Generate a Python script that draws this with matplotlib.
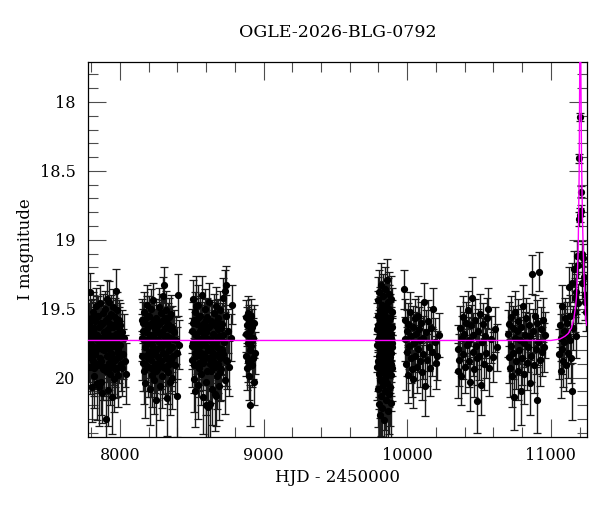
import matplotlib
matplotlib.use("Agg")
import matplotlib.pyplot as plt
from matplotlib.ticker import MultipleLocator

# OGLE photometry, one list of (HJD-2450000, I mag, error) per season
season1 = [
    (7781, 19.62, 0.16), (7784, 19.85, 0.18), (7786, 19.66, 0.14), (7790, 19.74, 0.17),
    (7792, 19.38, 0.14), (7795, 19.92, 0.20), (7799, 19.81, 0.19), (7802, 19.57, 0.13),
    (7804, 20.07, 0.25), (7807, 19.70, 0.16), (7811, 19.52, 0.14), (7813, 19.88, 0.20),
    (7816, 19.77, 0.17), (7820, 19.64, 0.15), (7822, 19.99, 0.23), (7825, 19.59, 0.14),
    (7829, 19.83, 0.18), (7831, 19.48, 0.13), (7834, 19.72, 0.16), (7838, 20.04, 0.27),
    (7841, 19.69, 0.15), (7843, 19.90, 0.21), (7846, 19.55, 0.14), (7850, 19.78, 0.18),
    (7852, 20.07, 0.28), (7855, 19.63, 0.15), (7859, 19.86, 0.19), (7862, 19.46, 0.13),
    (7864, 19.75, 0.17), (7867, 20.03, 0.24), (7871, 19.60, 0.14), (7875, 20.11, 0.22),
    (7876, 19.71, 0.16), (7879, 19.53, 0.14), (7883, 19.94, 0.22), (7886, 19.80, 0.18),
    (7888, 19.67, 0.15), (7891, 19.92, 0.21), (7895, 19.50, 0.13), (7898, 19.76, 0.17),
    (7900, 20.30, 0.30), (7903, 19.58, 0.14), (7907, 19.84, 0.19), (7910, 19.43, 0.14),
    (7912, 19.73, 0.16), (7915, 20.09, 0.26), (7919, 19.65, 0.15), (7922, 19.89, 0.20),
    (7924, 19.45, 0.15), (7927, 19.79, 0.18), (7931, 19.97, 0.23), (7934, 19.61, 0.14),
    (7936, 19.82, 0.19), (7939, 19.54, 0.14), (7943, 20.14, 0.27), (7946, 19.70, 0.16),
    (7948, 19.91, 0.21), (7951, 19.49, 0.13), (7955, 19.77, 0.17), (7958, 20.01, 0.24),
    (7960, 19.62, 0.15), (7963, 19.87, 0.20), (7967, 19.56, 0.14), (7970, 19.74, 0.17),
    (7972, 19.37, 0.16), (7975, 19.68, 0.15), (7979, 19.93, 0.21), (7982, 19.51, 0.13),
    (7984, 19.80, 0.18), (7987, 19.98, 0.23), (7991, 19.64, 0.15), (7994, 19.85, 0.19),
    (7997, 19.58, 0.14), (8001, 19.76, 0.17), (8006, 19.90, 0.20), (8012, 19.67, 0.16),
    (8019, 19.83, 0.18), (8027, 19.71, 0.17), (8036, 19.88, 0.19), (8042, 19.97, 0.22),
    (7783, 19.78, 0.17), (7788, 19.61, 0.15), (7797, 19.70, 0.16), (7806, 19.86, 0.19),
    (7815, 19.58, 0.15), (7818, 19.93, 0.20), (7827, 19.68, 0.16), (7836, 19.80, 0.18),
    (7840, 19.56, 0.15), (7848, 19.91, 0.20), (7857, 19.74, 0.17), (7866, 19.62, 0.15),
    (7869, 19.88, 0.19), (7878, 19.79, 0.18), (7885, 19.60, 0.15), (7893, 19.72, 0.17),
    (7902, 19.95, 0.21), (7905, 19.66, 0.16), (7914, 19.84, 0.19), (7917, 19.57, 0.15),
    (7926, 19.69, 0.16), (7933, 19.92, 0.20), (7941, 19.75, 0.17), (7950, 19.63, 0.15),
    (7953, 19.86, 0.19), (7962, 19.71, 0.17), (7969, 19.94, 0.21), (7977, 19.59, 0.15),
    (7986, 19.82, 0.18), (7993, 19.70, 0.16), (8003, 19.62, 0.16), (8015, 19.93, 0.20),
]

season2 = [
    (8153, 19.71, 0.17), (8156, 19.58, 0.15), (8160, 19.89, 0.21), (8163, 19.66, 0.16),
    (8166, 19.95, 0.24), (8170, 19.52, 0.14), (8173, 19.78, 0.18), (8176, 20.04, 0.25),
    (8180, 19.61, 0.15), (8183, 19.84, 0.19), (8186, 19.47, 0.14), (8190, 19.73, 0.17),
    (8193, 19.92, 0.22), (8196, 19.63, 0.15), (8200, 19.81, 0.19), (8203, 19.55, 0.14),
    (8206, 20.08, 0.26), (8210, 19.69, 0.16), (8213, 19.87, 0.20), (8216, 19.50, 0.14),
    (8220, 19.76, 0.17), (8223, 19.98, 0.23), (8226, 19.60, 0.15), (8230, 19.83, 0.19),
    (8233, 19.44, 0.13), (8236, 19.72, 0.17), (8240, 20.02, 0.24), (8243, 19.65, 0.15),
    (8246, 19.90, 0.21), (8250, 20.16, 0.28), (8253, 19.57, 0.14), (8256, 19.79, 0.18),
    (8260, 19.94, 0.22), (8263, 19.62, 0.15), (8266, 19.85, 0.19), (8270, 19.49, 0.14),
    (8273, 19.74, 0.17), (8276, 20.06, 0.25), (8280, 19.68, 0.16), (8283, 19.88, 0.20),
    (8286, 19.53, 0.14), (8290, 19.77, 0.18), (8293, 19.99, 0.23), (8296, 19.59, 0.15),
    (8300, 19.82, 0.19), (8303, 19.41, 0.14), (8306, 19.33, 0.13), (8310, 19.70, 0.16),
    (8313, 19.93, 0.22), (8316, 19.64, 0.15), (8320, 19.86, 0.20), (8323, 19.51, 0.14),
    (8326, 20.15, 0.27), (8330, 19.75, 0.17), (8333, 19.96, 0.23), (8336, 19.61, 0.15),
    (8340, 19.80, 0.18), (8343, 19.56, 0.14), (8346, 20.03, 0.24), (8350, 19.71, 0.16),
    (8353, 19.89, 0.21), (8356, 19.54, 0.14), (8360, 19.78, 0.18), (8363, 20.00, 0.23),
    (8366, 19.63, 0.15), (8370, 19.84, 0.19), (8375, 19.67, 0.16), (8381, 19.91, 0.21),
    (8388, 19.73, 0.17), (8394, 20.13, 0.30), (8400, 19.82, 0.19), (8405, 19.40, 0.15),
    (8410, 19.76, 0.18),
    (8155, 19.84, 0.18), (8162, 19.60, 0.15), (8168, 19.73, 0.17), (8178, 19.90, 0.20),
    (8185, 19.67, 0.16), (8191, 19.56, 0.15), (8198, 19.86, 0.19), (8205, 19.75, 0.17),
    (8212, 19.62, 0.15), (8218, 19.93, 0.21), (8225, 19.80, 0.18), (8232, 19.69, 0.16),
    (8238, 19.58, 0.15), (8245, 19.82, 0.19), (8252, 19.95, 0.21), (8258, 19.66, 0.16),
    (8265, 19.73, 0.17), (8272, 19.89, 0.20), (8278, 19.60, 0.15), (8285, 19.78, 0.18),
    (8292, 19.67, 0.16), (8298, 19.92, 0.20), (8305, 19.74, 0.17), (8312, 19.57, 0.15),
    (8318, 19.84, 0.19), (8325, 19.70, 0.16), (8332, 19.63, 0.15), (8338, 19.91, 0.20),
    (8345, 19.77, 0.18), (8352, 19.65, 0.16), (8358, 19.87, 0.19), (8368, 19.72, 0.17),
]

season3 = [
    (8500, 19.66, 0.16), (8503, 19.87, 0.20), (8506, 19.43, 0.14), (8510, 19.74, 0.17),
    (8513, 20.01, 0.24), (8516, 19.58, 0.15), (8520, 19.82, 0.19), (8523, 19.52, 0.14),
    (8526, 20.10, 0.26), (8530, 19.69, 0.16), (8532, 19.48, 0.22), (8536, 19.61, 0.15),
    (8540, 19.79, 0.18), (8543, 19.47, 0.14), (8546, 20.05, 0.25), (8550, 19.72, 0.17),
    (8553, 19.89, 0.21), (8556, 19.55, 0.14), (8560, 19.77, 0.18), (8563, 19.97, 0.23),
    (8566, 19.64, 0.15), (8570, 19.85, 0.20), (8573, 19.40, 0.14), (8576, 19.71, 0.16),
    (8580, 20.14, 0.27), (8583, 19.60, 0.15), (8586, 19.83, 0.19), (8590, 19.50, 0.14),
    (8593, 19.76, 0.17), (8596, 20.03, 0.24), (8600, 19.67, 0.16), (8602, 20.20, 0.25),
    (8606, 19.56, 0.14), (8610, 19.80, 0.18), (8613, 20.21, 0.29), (8616, 19.63, 0.15),
    (8620, 19.86, 0.20), (8623, 19.45, 0.14), (8626, 20.19, 0.28), (8630, 19.73, 0.17),
    (8633, 19.95, 0.23), (8636, 19.59, 0.15), (8640, 19.81, 0.19), (8643, 20.08, 0.26),
    (8646, 19.68, 0.16), (8650, 19.88, 0.21), (8653, 19.53, 0.14), (8656, 19.75, 0.17),
    (8660, 20.12, 0.27), (8663, 19.62, 0.15), (8667, 20.13, 0.22), (8670, 19.48, 0.14),
    (8673, 19.78, 0.18), (8676, 19.99, 0.24), (8680, 19.65, 0.16), (8683, 19.90, 0.21),
    (8686, 19.57, 0.14), (8690, 20.06, 0.25), (8693, 19.70, 0.16), (8696, 19.86, 0.20),
    (8700, 19.51, 0.14), (8703, 19.79, 0.18), (8706, 19.94, 0.22), (8710, 19.61, 0.15),
    (8715, 19.83, 0.19), (8720, 19.42, 0.14), (8726, 19.74, 0.17), (8729, 19.37, 0.15),
    (8732, 20.02, 0.24), (8737, 19.55, 0.15), (8741, 19.33, 0.14), (8746, 19.88, 0.20),
    (8752, 19.66, 0.16), (8760, 19.92, 0.21), (8770, 19.71, 0.17), (8783, 19.47, 0.14),
    (8502, 19.77, 0.17), (8508, 19.60, 0.15), (8515, 19.91, 0.20), (8521, 19.68, 0.16),
    (8528, 19.84, 0.19), (8535, 19.74, 0.17), (8541, 19.57, 0.15), (8548, 19.93, 0.21),
    (8555, 19.66, 0.16), (8561, 19.82, 0.19), (8568, 19.62, 0.15), (8575, 19.89, 0.20),
    (8581, 19.75, 0.17), (8588, 19.68, 0.16), (8595, 19.86, 0.19), (8601, 19.58, 0.15),
    (8608, 19.95, 0.21), (8615, 19.72, 0.17), (8621, 19.63, 0.15), (8628, 19.90, 0.20),
    (8635, 19.78, 0.18), (8641, 19.60, 0.15), (8648, 19.85, 0.19), (8655, 19.69, 0.16),
    (8661, 19.92, 0.21), (8668, 19.74, 0.17), (8675, 19.59, 0.15), (8681, 19.83, 0.19),
    (8688, 19.71, 0.16), (8695, 19.96, 0.21), (8701, 19.64, 0.16), (8708, 19.80, 0.18),
    (8718, 19.69, 0.17), (8735, 19.87, 0.19),
]

season4 = [
    (8876, 19.68, 0.13), (8879, 19.56, 0.12), (8881, 19.84, 0.15), (8884, 19.62, 0.13),
    (8886, 19.93, 0.16), (8889, 19.75, 0.14), (8891, 19.53, 0.12), (8894, 19.88, 0.15),
    (8896, 19.70, 0.13), (8899, 19.99, 0.17), (8901, 19.59, 0.12), (8904, 19.80, 0.14),
    (8906, 19.66, 0.13), (8909, 20.20, 0.15), (8911, 19.77, 0.14), (8914, 19.55, 0.12),
    (8916, 19.91, 0.16), (8919, 19.73, 0.14), (8921, 19.63, 0.13), (8924, 19.86, 0.15),
    (8927, 19.71, 0.14), (8930, 20.03, 0.17), (8934, 19.60, 0.13), (8938, 19.82, 0.15),
]

season5 = [
    (9792, 19.65, 0.19), (9793, 19.92, 0.24), (9795, 19.44, 0.17), (9796, 20.08, 0.28),
    (9798, 19.73, 0.20), (9799, 19.55, 0.18), (9801, 20.19, 0.30), (9802, 19.84, 0.22),
    (9804, 19.38, 0.16), (9805, 19.97, 0.26), (9807, 19.68, 0.19), (9808, 20.27, 0.32),
    (9810, 19.51, 0.17), (9811, 19.79, 0.21), (9813, 20.02, 0.27), (9814, 19.61, 0.18),
    (9816, 19.89, 0.23), (9817, 19.33, 0.16), (9819, 20.13, 0.29), (9820, 19.75, 0.20),
    (9822, 19.58, 0.18), (9823, 19.95, 0.25), (9825, 19.47, 0.17), (9826, 20.22, 0.31),
    (9828, 19.70, 0.20), (9829, 19.86, 0.22), (9831, 19.41, 0.16), (9832, 20.05, 0.27),
    (9834, 19.64, 0.19), (9835, 19.81, 0.21), (9837, 20.31, 0.33), (9838, 19.53, 0.17),
    (9840, 19.92, 0.24), (9841, 19.72, 0.20), (9843, 19.36, 0.16), (9844, 20.10, 0.28),
    (9846, 19.60, 0.18), (9847, 19.87, 0.23), (9849, 19.49, 0.17), (9850, 20.16, 0.30),
    (9852, 19.77, 0.20), (9853, 19.99, 0.26), (9855, 19.56, 0.18), (9856, 19.83, 0.22),
    (9858, 19.29, 0.15), (9859, 20.04, 0.27), (9861, 19.67, 0.19), (9862, 19.90, 0.23),
    (9864, 19.45, 0.17), (9865, 20.24, 0.31), (9867, 19.74, 0.20), (9868, 19.62, 0.19),
    (9870, 19.96, 0.25), (9871, 19.50, 0.17), (9873, 20.12, 0.29), (9874, 19.80, 0.21),
    (9876, 19.39, 0.16), (9877, 19.88, 0.23), (9879, 19.69, 0.19), (9880, 20.07, 0.28),
    (9882, 19.57, 0.18), (9883, 19.85, 0.22), (9885, 19.43, 0.17), (9886, 19.98, 0.26),
    (9888, 19.71, 0.20), (9889, 20.18, 0.30), (9891, 19.63, 0.19), (9892, 19.93, 0.24),
    (9894, 19.52, 0.17), (9896, 19.78, 0.21),
    (9793, 19.76, 0.20), (9797, 19.88, 0.22), (9800, 19.62, 0.19), (9803, 19.71, 0.20),
    (9806, 19.91, 0.23), (9809, 19.59, 0.18), (9812, 19.83, 0.22), (9815, 19.74, 0.20),
    (9818, 19.66, 0.19), (9821, 19.94, 0.24), (9824, 19.79, 0.21), (9827, 19.57, 0.18),
    (9830, 19.85, 0.22), (9833, 19.69, 0.19), (9836, 19.96, 0.24), (9839, 19.63, 0.19),
    (9842, 19.81, 0.21), (9845, 19.73, 0.20), (9848, 20.00, 0.25), (9851, 19.60, 0.18),
    (9854, 19.89, 0.23), (9857, 19.76, 0.20), (9860, 19.66, 0.19), (9863, 19.84, 0.22),
    (9866, 19.93, 0.24), (9869, 19.71, 0.20), (9872, 19.58, 0.18), (9875, 19.87, 0.22),
    (9878, 19.77, 0.21), (9881, 19.64, 0.19), (9884, 19.90, 0.23), (9887, 19.82, 0.21),
    (9890, 19.68, 0.19), (9893, 19.75, 0.20),
]

season6 = [
    (9976, 19.36, 0.14), (9982, 19.72, 0.16), (9986, 19.58, 0.15), (9991, 19.90, 0.19),
    (9995, 19.66, 0.15), (10000, 19.81, 0.18), (10003, 19.98, 0.20), (10008, 19.61, 0.15),
    (10013, 19.77, 0.17), (10018, 19.52, 0.14), (10023, 19.86, 0.18), (10028, 19.70, 0.16),
    (10033, 19.94, 0.20), (10038, 19.63, 0.15), (10042, 20.01, 0.21), (10047, 19.75, 0.17),
    (10052, 19.57, 0.14), (10057, 19.84, 0.18), (10062, 19.68, 0.16), (10067, 19.92, 0.19),
    (10072, 19.55, 0.14), (10077, 19.79, 0.17), (10082, 19.65, 0.16), (10087, 19.88, 0.19),
    (10092, 19.73, 0.16), (10097, 19.60, 0.15), (10103, 19.96, 0.20), (10108, 19.71, 0.16),
    (10113, 19.83, 0.18), (10118, 19.45, 0.14), (10124, 20.06, 0.22), (10130, 19.67, 0.16),
    (10136, 19.87, 0.19), (10142, 19.59, 0.15), (10149, 19.78, 0.17), (10156, 19.93, 0.20),
    (10163, 19.64, 0.15), (10170, 19.81, 0.18), (10181, 19.50, 0.15), (10190, 19.74, 0.17),
    (10200, 19.89, 0.19), (10210, 19.84, 0.18), (10220, 19.69, 0.16),
]

season7 = [
    (10350, 19.79, 0.17), (10356, 19.95, 0.20), (10361, 19.87, 0.19), (10367, 19.64, 0.16),
    (10373, 19.99, 0.21), (10379, 19.71, 0.16), (10385, 19.56, 0.15), (10391, 19.83, 0.18),
    (10397, 19.68, 0.16), (10403, 19.92, 0.19), (10409, 19.60, 0.15), (10415, 19.76, 0.17),
    (10421, 19.51, 0.14), (10427, 19.88, 0.19), (10433, 19.73, 0.17), (10439, 20.03, 0.21),
    (10444, 19.62, 0.15), (10449, 19.42, 0.15), (10455, 19.81, 0.18), (10461, 19.69, 0.16),
    (10467, 19.94, 0.20), (10473, 19.58, 0.15), (10479, 19.77, 0.17), (10484, 19.86, 0.19),
    (10488, 20.17, 0.23), (10494, 19.66, 0.16), (10500, 19.84, 0.18), (10506, 19.54, 0.15),
    (10512, 20.05, 0.22), (10518, 19.74, 0.17), (10524, 19.61, 0.15), (10531, 19.90, 0.19),
    (10538, 19.70, 0.16), (10545, 19.82, 0.18), (10552, 19.57, 0.15), (10563, 19.50, 0.15),
    (10572, 19.93, 0.20), (10583, 19.72, 0.17), (10596, 19.85, 0.18), (10610, 19.65, 0.16),
    (10622, 19.78, 0.17),
]

season8 = [
    (10701, 19.68, 0.17), (10706, 19.85, 0.19), (10711, 19.61, 0.16), (10716, 19.93, 0.21),
    (10720, 19.56, 0.15), (10725, 19.77, 0.18), (10730, 19.99, 0.22), (10735, 19.64, 0.16),
    (10739, 19.82, 0.19), (10743, 20.14, 0.24), (10748, 19.71, 0.17), (10753, 19.52, 0.15),
    (10758, 19.88, 0.20), (10763, 19.66, 0.16), (10768, 19.95, 0.21), (10773, 19.59, 0.16),
    (10778, 19.80, 0.18), (10784, 19.73, 0.17), (10790, 20.10, 0.24), (10795, 19.63, 0.16),
    (10800, 19.86, 0.19), (10806, 19.48, 0.15), (10811, 19.75, 0.17), (10816, 19.97, 0.22),
    (10822, 19.69, 0.17), (10828, 19.57, 0.15), (10834, 19.89, 0.20), (10840, 19.78, 0.18),
    (10846, 19.62, 0.16), (10852, 20.04, 0.23), (10858, 19.70, 0.17), (10864, 19.84, 0.19),
    (10870, 19.25, 0.14), (10876, 19.66, 0.16), (10882, 19.91, 0.20), (10888, 19.55, 0.15),
    (10894, 19.79, 0.18), (10900, 19.60, 0.16), (10905, 20.16, 0.24), (10911, 19.74, 0.17),
    (10917, 19.23, 0.14), (10923, 19.87, 0.19), (10930, 19.65, 0.16), (10937, 19.81, 0.18),
    (10944, 19.58, 0.16), (10951, 19.78, 0.18), (10960, 19.69, 0.17),
]

season9 = [
    (11058, 19.83, 0.18), (11063, 19.62, 0.16), (11067, 19.95, 0.20), (11072, 19.71, 0.17),
    (11076, 19.79, 0.18), (11079, 19.48, 0.15), (11084, 19.88, 0.19), (11089, 19.66, 0.16),
    (11094, 19.74, 0.17), (11099, 19.57, 0.15), (11104, 19.91, 0.19), (11109, 19.69, 0.16),
    (11114, 19.60, 0.15), (11119, 19.82, 0.18), (11125, 19.34, 0.14), (11130, 19.73, 0.17),
    (11136, 19.55, 0.15), (11142, 19.86, 0.18), (11148, 19.31, 0.14), (11150, 20.10, 0.21),
    (11155, 19.64, 0.16), (11160, 19.21, 0.13), (11165, 19.52, 0.15), (11170, 19.42, 0.14),
    (11174, 19.70, 0.16), (11178, 19.38, 0.13), (11183, 19.12, 0.11), (11187, 19.46, 0.14),
    (11192, 19.18, 0.10), (11197, 18.85, 0.05), (11199, 18.41, 0.03), (11203, 18.82, 0.05),
    (11206, 18.11, 0.03), (11208, 18.65, 0.04), (11210, 18.79, 0.04), (11214, 19.10, 0.09),
    (11219, 19.31, 0.12), (11225, 19.13, 0.10), (11229, 19.27, 0.11), (11234, 19.40, 0.12),
    (11238, 19.45, 0.13), (11243, 19.52, 0.14),
]

seasons = [season1, season2, season3, season4, season5,
           season6, season7, season8, season9]

# microlensing model curve
model_t = [7778, 11000, 11062, 11097, 11120, 11143, 11160, 11171, 11178, 11185,
           11190, 11194, 11197, 11199, 11201, 11204, 11208, 11213, 11220, 11229,
           11243, 11250]
model_mag = [19.73, 19.73, 19.72, 19.70, 19.68, 19.64, 19.57, 19.49, 19.42, 19.23,
             19.07, 18.75, 18.50, 18.14, 17.71, 17.30, 17.70, 18.38, 18.86, 19.22,
             19.58, 19.62]

plt.rcParams["font.family"] = "DejaVu Serif"

fig = plt.figure(figsize=(6, 5.12), dpi=100)
ax = fig.add_axes([0.1467, 0.1465, 0.8313, 0.7325])

for s in seasons:
    t, m, e = zip(*s)
    ax.errorbar(t, m, yerr=e, fmt="o", color="k", ms=4.2, ecolor="0.1",
                elinewidth=1.0, capsize=3, capthick=0.9, zorder=2)

ax.plot(model_t, model_mag, color="#ff00ff", lw=1.0, zorder=3)

ax.set_xlim(7778, 11250)
ax.set_ylim(20.43, 17.71)

ax.xaxis.set_major_locator(MultipleLocator(1000))
ax.xaxis.set_minor_locator(MultipleLocator(200))
ax.yaxis.set_major_locator(MultipleLocator(0.5))
ax.yaxis.set_minor_locator(MultipleLocator(0.1))
ax.yaxis.set_major_formatter(plt.FuncFormatter(lambda v, p: f"{v:g}"))

ax.tick_params(which="both", direction="in", top=True, right=True,
               width=0.8, color="0.3", labelsize=11.5)
ax.tick_params(which="major", length=13)
ax.tick_params(which="minor", length=7)
ax.tick_params(axis="y", pad=9)
ax.tick_params(axis="x", pad=7)
for sp in ax.spines.values():
    sp.set_linewidth(0.9)

ax.set_xlabel("HJD - 2450000", fontsize=12)
ax.set_ylabel("I magnitude", fontsize=12)
ax.set_title("OGLE-2026-BLG-0792", fontsize=12.5, pad=18)

fig.savefig("out.png", dpi=100)
